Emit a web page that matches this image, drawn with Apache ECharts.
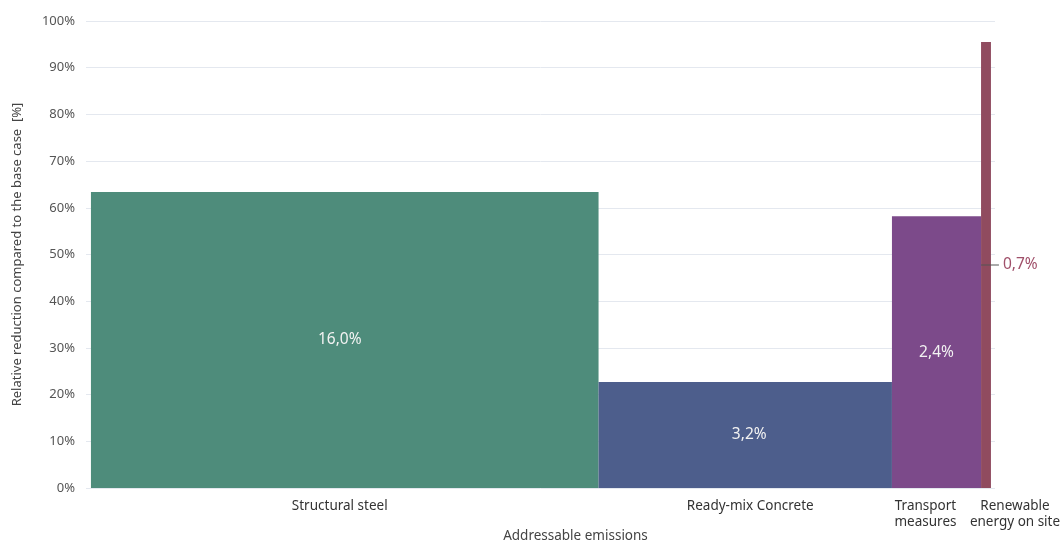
<!DOCTYPE html>
<html>
<head>
<meta charset="utf-8">
<script src="https://cdn.jsdelivr.net/npm/echarts@6/dist/echarts.min.js"></script>
<style>html,body{margin:0;padding:0;background:#fff}#c{width:1062px;height:540px}</style>
</head>
<body>
<div id="c"></div>
<script>
const categories = ['Structural steel', 'Ready-mix Concrete', 'Transport\nmeasures', 'Renewable\nenergy on site'];
const widths = [56.4, 32.6, 9.9, 1.1];          // addressable emissions share (bar widths)
const heights = [63.4, 22.7, 58.2, 95.5];       // relative reduction [%]
const valueLabels = ['16,0%', '3,2%', '2,4%', '0,7%'];
const yTicks = [0, 10, 20, 30, 40, 50, 60, 70, 80, 90, 100];

const colors = ['#4e8c7b', '#4d5e8c', '#7c4a8a', '#904b5f'];
const catLabelShift = [-5, 5, -11, 29];
const valueLabelShift = [-5, 4, 0, 0];

let acc = 0;
const data = widths.map((w, i) => {
  const s = acc; acc += w;
  return [s, acc, heights[i], i];
});

const chart = echarts.init(document.getElementById('c'));
const FONT = '"Noto Sans", sans-serif';
chart.setOption({
  animation: false,
  grid: { left: 86, right: 67, top: 21, bottom: 52, containLabel: false, outerBoundsMode: 'none' },
  xAxis: {
    type: 'value', min: -0.55, max: 100.45,
    axisLabel: { show: false }, axisTick: { show: false }, axisLine: { show: false },
    splitLine: { show: false },
    name: 'Addressable emissions', nameLocation: 'middle', nameGap: 41,
    nameTextStyle: { fontFamily: FONT, fontSize: 13.5, color: '#444', padding: [0, 0, 0, 70] }
  },
  yAxis: {
    type: 'value', min: 0, max: 100, interval: 10,
    axisLabel: { formatter: v => v + '%', fontFamily: FONT, fontSize: 13, color: '#555', margin: 11 },
    axisLine: { show: false }, axisTick: { show: false },
    splitLine: { lineStyle: { color: '#e4e8ef', width: 1 } },
    name: 'Relative reduction compared to the base case  [%]', nameLocation: 'middle', nameGap: 62,
    nameTextStyle: { fontFamily: FONT, fontSize: 13, color: '#444' }
  },
  series: [{
    type: 'custom',
    data: data,
    encode: { x: [0, 1], y: 2 },
    renderItem: function (params, api) {
      const s = api.value(0), e = api.value(1), h = api.value(2), i = api.value(3);
      const p0 = api.coord([s, h]);
      const p1 = api.coord([e, 0]);
      const cx = (p0[0] + p1[0]) / 2, cy = (p0[1] + p1[1]) / 2;
      const children = [{
        type: 'rect',
        shape: { x: p0[0], y: p0[1], width: p1[0] - p0[0], height: p1[1] - p0[1] },
        style: { fill: colors[i] }
      }];
      if (i === categories.length - 1) {
        children.push({
          type: 'line',
          shape: { x1: p0[0], y1: cy, x2: p1[0] + 8, y2: cy },
          style: { stroke: '#555', lineWidth: 1 }
        });
        children.push({
          type: 'text',
          style: { text: valueLabels[i], x: p1[0] + 12, y: cy, align: 'left', verticalAlign: 'middle',
                   fill: '#a0506a', font: '15.5px ' + FONT }
        });
      } else {
        children.push({
          type: 'text',
          style: { text: valueLabels[i], x: cx + valueLabelShift[i], y: cy, align: 'center', verticalAlign: 'middle',
                   fill: '#f2f2f2', font: '15.5px ' + FONT }
        });
      }
      children.push({
        type: 'text',
        style: { text: categories[i], x: cx + catLabelShift[i], y: p1[1] + 10, align: 'center', verticalAlign: 'top',
                 fill: '#333', font: '13.5px ' + FONT, lineHeight: 16 }
      });
      return { type: 'group', children: children };
    }
  }]
});
</script>
</body>
</html>
